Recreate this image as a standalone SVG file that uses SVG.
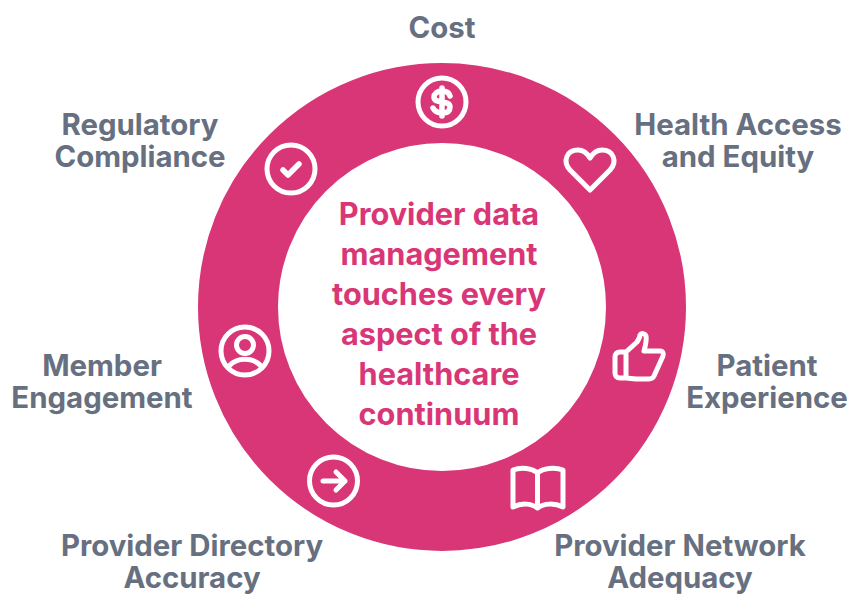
<svg xmlns="http://www.w3.org/2000/svg" width="849" height="596" viewBox="0 0 849 596">
<style>
.lbl{font:700 29.4px Inter,"Liberation Sans",sans-serif;fill:#667080;text-anchor:middle}
.ctr{font:700 30.7px Inter,"Liberation Sans",sans-serif;fill:#d93677;text-anchor:middle}
.ic{fill:none;stroke:#fff;stroke-width:5;stroke-linecap:round;stroke-linejoin:round}
</style>
<rect width="849" height="596" fill="#fff"/>
<g id="ring"><circle cx="442" cy="307" r="204" fill="none" stroke="#d93677" stroke-width="80"/></g>
<g id="center"><text class="ctr" x="439" y="225">Provider data</text><text class="ctr" x="439" y="265">management</text><text class="ctr" x="439" y="305">touches every</text><text class="ctr" x="439" y="345">aspect of the</text><text class="ctr" x="439" y="384.500">healthcare</text><text class="ctr" x="439" y="424.500">continuum</text></g>
<g id="cost"><text class="lbl" x="442" y="38">Cost</text><circle class="ic" cx="442" cy="102" r="24"/><path class="ic" style="stroke-width:5.500" d="M450 96C449 92 445 91 442 91C437 91 434 94 434 97C434 105 450 99 450 107C450 111 447 113 442 113C438 113 435 112 433 108M442 88V116"/></g>
<g id="health"><text class="lbl" x="738" y="135">Health Access</text><text class="lbl" x="738" y="167">and Equity</text><path class="ic" d="M590 190L570 170C562 161 567 150 578 150C583 150 587 153 590 158C593 153 597 150 602 150C613 150 618 161 610 170Z"/></g>
<g id="patient"><text class="lbl" x="767" y="376">Patient</text><text class="lbl" x="767" y="408">Experience</text><path class="ic" d="M626 352H620C617 352 615 354 615 357V373C615 376 617 378 620 378H626ZM626 352L637 342C639 339 640 337 640 335C641 333 645 333 646 336C647 341 645 347 644 351H660C663 351 664 354 663 356L654 376C653 378 651 379 649 379H636L626 378"/></g>
<g id="network"><text class="lbl" x="680" y="556">Provider Network</text><text class="lbl" x="680" y="588">Adequacy</text><path class="ic" d="M537.500 473C532 468 521 467 513 470V507C521 503 531 503 537.500 508C544 503 555 503 563 507V470C555 467 543 468 537.500 473ZM537.500 473V508"/></g>
<g id="directory"><text class="lbl" x="192" y="556">Provider Directory</text><text class="lbl" x="192" y="588">Accuracy</text><circle class="ic" cx="333.500" cy="481" r="24"/><path class="ic" d="M323 481H345M336 472L345 481L336 490"/></g>
<g id="member"><text class="lbl" x="102" y="376">Member</text><text class="lbl" x="102" y="408">Engagement</text><circle class="ic" cx="245" cy="351" r="24"/><circle class="ic" cx="245" cy="345" r="8.500"/><path class="ic" d="M229 366C237 357 253 357 261 366"/></g>
<g id="regulatory"><text class="lbl" x="140" y="135">Regulatory</text><text class="lbl" x="140" y="167">Compliance</text><circle class="ic" cx="291" cy="169" r="24"/><path class="ic" style="stroke-width:5.500" d="M283 170L288 175L299 164"/></g>
</svg>
